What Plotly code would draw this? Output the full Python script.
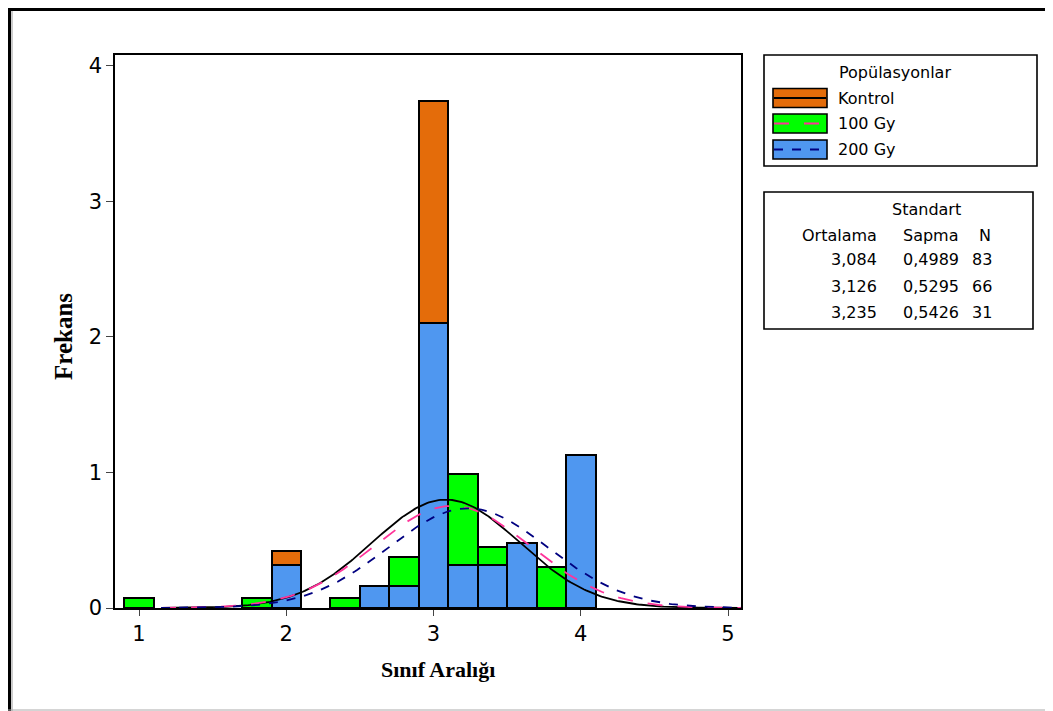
import numpy as np
import plotly.graph_objects as go

# ---- data ----
bin_centers = [1.0, 1.2, 1.4, 1.6, 1.8, 2.0, 2.2, 2.4, 2.6, 2.8, 3.0, 3.2, 3.4, 3.6, 3.8, 4.0]
kontrol = [0, 0, 0, 0, 0, 0.42, 0, 0, 0, 0, 3.74, 0, 0, 0, 0, 0.84]
gy100 = [0.076, 0, 0, 0, 0.076, 0.15, 0, 0.076, 0, 0.38, 1.82, 0.99, 0.45, 0.38, 0.30, 0.30]
gy200 = [0, 0, 0, 0, 0, 0.32, 0, 0, 0.16, 0.16, 2.10, 0.32, 0.32, 0.48, 0, 1.13]
series_names = ["Kontrol", "100 Gy", "200 Gy"]
means = [3.084, 3.126, 3.235]
stdevs = [0.4989, 0.5295, 0.5426]
counts = [83, 66, 31]
mean_labels = ["3,084", "3,126", "3,235"]
sd_labels = ["0,4989", "0,5295", "0,5426"]
x_ticks = [1, 2, 3, 4, 5]
y_ticks = [0, 1, 2, 3, 4]

bar_colors = ["#E46C0A", "#00FF00", "#4F97F0"]
curve_colors = ["#000000", "#FF3399", "#000080"]
curve_dash = ["solid", "longdash", "dash"]
BIN_W = 0.2

fig = go.Figure()

# overlaid bars, drawn in fixed order: Kontrol (back), 100 Gy, 200 Gy (front)
all_series = [kontrol, gy100, gy200]
for k in range(3):
    ys = [v if v > 0 else None for v in all_series[k]]
    fig.add_trace(go.Bar(
        x=bin_centers, y=ys, width=BIN_W, name=series_names[k],
        marker=dict(color=bar_colors[k], line=dict(color="black", width=2)),
        showlegend=False, hoverinfo="skip"))

# fitted normal curves
xs = np.linspace(1.15, 5.09, 300)
for k in range(3):
    ys = np.exp(-0.5 * ((xs - means[k]) / stdevs[k]) ** 2) / (stdevs[k] * np.sqrt(2 * np.pi))
    fig.add_trace(go.Scatter(x=xs, y=ys, mode="lines",
                             line=dict(color=curve_colors[k], dash=curve_dash[k], width=1.8),
                             showlegend=False, hoverinfo="skip"))

# ---- layout (page pixel coords; page body has an 8px margin) ----
OFF = 8
PW, PH = 1053, 711
W, H = PW - OFF, PH - OFF
L, R, T, B = 115, 741, 55, 608

def px(x):
    return (x - L) / (R - L)

def py(y):
    return (B - y) / (B - T)

fig.update_layout(
    width=W, height=H, barmode="overlay", bargap=0,
    margin=dict(l=L - OFF, r=PW - R, t=T - OFF, b=PH - B, pad=0),
    paper_bgcolor="white", plot_bgcolor="white",
    font=dict(family="DejaVu Sans", color="black"),
    xaxis=dict(range=[0.837, 5.088], tickvals=x_ticks, ticks="outside", ticklen=6,
               tickwidth=1.2, showgrid=False, zeroline=False, showline=True,
               linecolor="black", linewidth=1.6, mirror=True,
               tickfont=dict(size=21, family="DejaVu Sans")),
    yaxis=dict(range=[0, 4.08], tickvals=y_ticks, ticks="outside", ticklen=7,
               tickwidth=1.2, showgrid=False, zeroline=False, showline=True,
               linecolor="black", linewidth=1.6, mirror=True,
               tickfont=dict(size=21, family="DejaVu Sans")),
)

shapes = []
annotations = []

def text(x, y, s, anchor="center", size=16):
    annotations.append(dict(x=px(x), y=py(y), xref="paper", yref="paper", text=s,
                            xanchor=anchor, yanchor="middle", showarrow=False,
                            font=dict(size=size)))

# axis titles
annotations.append(dict(x=px(438), y=py(669), xref="paper", yref="paper", text="<b>Sınıf Aralığı</b>",
                        xanchor="center", yanchor="middle", showarrow=False,
                        font=dict(family="Liberation Serif", size=22)))
annotations.append(dict(x=px(63), y=py(337), xref="paper", yref="paper", text="<b>Frekans</b>",
                        xanchor="center", yanchor="middle", textangle=-90, showarrow=False,
                        font=dict(family="Liberation Serif", size=25)))

# legend box
shapes.append(dict(type="rect", xref="paper", yref="paper", x0=px(764), x1=px(1037), y0=py(55), y1=py(166),
                   line=dict(color="black", width=1.6), fillcolor="white"))
text(895, 72, "Popülasyonlar")
row_y = [98, 123.5, 149.5]
for k in range(3):
    yc = row_y[k]
    shapes.append(dict(type="rect", xref="paper", yref="paper", x0=px(773), x1=px(827),
                       y0=py(yc + 9.5), y1=py(yc - 9.5), fillcolor=bar_colors[k],
                       line=dict(color="black", width=1.6)))
    shapes.append(dict(type="line", xref="paper", yref="paper", x0=px(774), x1=px(826),
                       y0=py(yc), y1=py(yc), line=dict(color=curve_colors[k], width=1.8,
                                                       dash=curve_dash[k])))
    text(836, yc, series_names[k], anchor="left")

# statistics box
shapes.append(dict(type="rect", xref="paper", yref="paper", x0=px(764), x1=px(1033), y0=py(192), y1=py(329),
                   line=dict(color="black", width=1.6), fillcolor="white"))
text(926, 209, "Standart")
header_y = 235
for txt, xr in [("Ortalama", 879), ("Sapma", 961), ("N", 993)]:
    text(xr, header_y, txt, anchor="right")
stat_rows_y = [259, 286, 312]
for k in range(3):
    for txt, xr in [(mean_labels[k], 879), (sd_labels[k], 961), (str(counts[k]), 994)]:
        text(xr, stat_rows_y[k], txt, anchor="right")

# outer page border
shapes.append(dict(type="line", xref="paper", yref="paper", x0=px(8), x1=px(1053), y0=py(9.5), y1=py(9.5),
                   line=dict(color="black", width=3)))
shapes.append(dict(type="line", xref="paper", yref="paper", x0=px(9.5), x1=px(9.5), y0=py(8), y1=py(711),
                   line=dict(color="black", width=3)))
shapes.append(dict(type="line", xref="paper", yref="paper", x0=px(12), x1=px(12), y0=py(11), y1=py(711),
                   line=dict(color="#999999", width=1)))
shapes.append(dict(type="line", xref="paper", yref="paper", x0=px(8), x1=px(1053), y0=py(710), y1=py(710),
                   line=dict(color="#AAAAAA", width=1)))

fig.update_layout(shapes=shapes, annotations=annotations)
fig.write_html("out.html")
